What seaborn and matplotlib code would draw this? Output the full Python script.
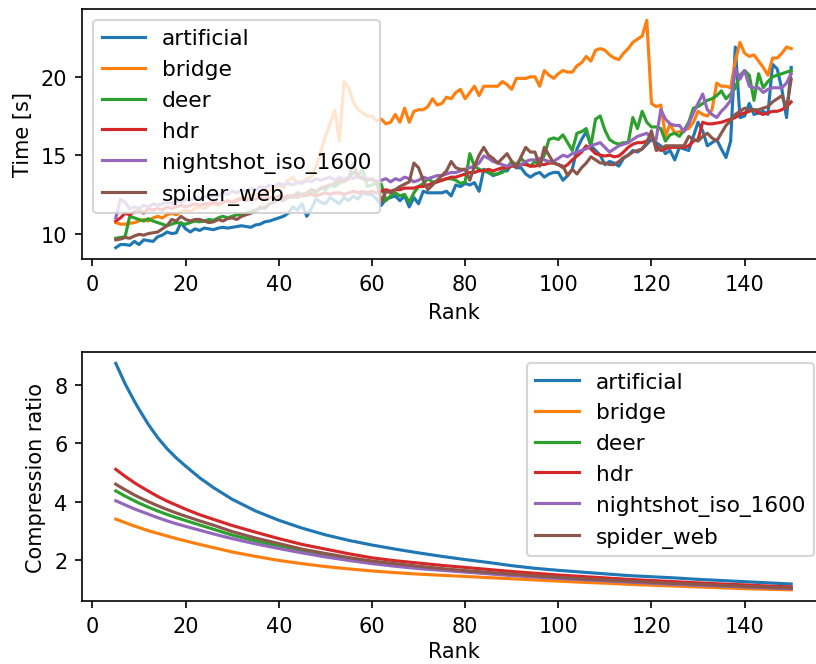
import numpy as np
import pandas as pd
import matplotlib
matplotlib.use("Agg")
import matplotlib.pyplot as plt
import seaborn as sns

images = ["artificial", "bridge", "deer", "hdr", "nightshot_iso_1600", "spider_web"]

# czasy kompresji, rank 5..150 co 1
time_ranks = list(range(5, 151))
time_artificial = [
    9.1, 9.3, 9.3, 9.25, 9.5, 9.3, 9.6, 9.55, 9.5, 9.8,
    9.9, 10.1, 10.0, 10.05, 10.7, 10.3, 10.1, 10.3, 10.2, 10.35,
    10.3, 10.25, 10.35, 10.4, 10.35, 10.4, 10.45, 10.5, 10.45, 10.4,
    10.55, 10.6, 10.75, 10.8, 10.9, 11.0, 11.1, 11.3, 11.7, 11.5,
    11.9, 11.1, 11.6, 12.2, 12.0, 11.9, 12.3, 12.1, 11.9, 12.3,
    12.1, 12.4, 12.2, 12.6, 12.5, 12.5, 12.2, 11.8, 12.2, 12.3,
    12.4, 12.1, 12.4, 11.7, 12.3, 11.9, 12.7, 12.6, 12.6, 12.6,
    12.6, 12.7, 12.4, 13.1, 13.0, 13.2, 13.1, 13.25, 12.7, 14.1,
    13.9, 13.7, 13.8, 14.0, 14.0, 14.4, 14.2, 14.2, 13.8, 13.6,
    13.8, 13.9, 13.6, 13.8, 13.9, 13.9, 13.4, 13.7, 14.1, 15.4,
    16.0, 16.5, 15.6, 15.3, 15.0, 14.4, 14.6, 14.5, 14.3, 14.8,
    15.0, 15.3, 15.2, 15.4, 15.7, 16.0, 15.8, 15.6, 15.1, 15.3,
    14.7, 15.5, 15.4, 15.3, 16.2, 17.1, 16.55, 15.6, 15.8, 16.0,
    15.4, 14.85, 15.9, 21.9, 17.4, 17.5, 18.3, 17.6, 17.7, 17.8,
    17.6, 20.8, 20.5, 19.2, 17.4, 20.6,
]
time_bridge = [
    10.7, 10.6, 10.6, 10.65, 10.7, 10.8, 10.9, 10.8, 11.0, 11.1,
    11.0, 11.2, 11.3, 11.2, 11.4, 11.5, 11.4, 11.6, 11.7, 11.6,
    11.8, 11.9, 11.8, 12.0, 12.1, 12.0, 12.2, 12.3, 12.2, 12.4,
    12.5, 12.4, 12.6, 12.7, 12.9, 13.1, 12.9, 13.4, 13.6, 13.2,
    13.3, 13.5, 13.6, 14.3, 15.2, 16.2, 17.0, 17.9, 15.9, 19.7,
    19.3, 18.4, 17.9, 17.7, 17.5, 17.5, 17.2, 17.3, 17.0, 17.1,
    17.6, 17.1, 18.0, 17.1, 17.8, 17.9, 17.9, 18.1, 18.6, 18.2,
    18.3, 18.7, 18.6, 19.0, 19.2, 18.6, 19.0, 19.4, 18.8, 19.4,
    19.4, 19.4, 19.4, 19.7, 19.5, 19.2, 19.9, 19.9, 19.9, 20.0,
    20.0, 19.4, 20.4, 20.1, 19.9, 20.2, 20.4, 20.3, 20.3, 20.7,
    20.9, 21.3, 21.0, 21.7, 21.8, 21.7, 21.4, 21.2, 21.1, 21.5,
    21.8, 22.2, 22.4, 22.6, 23.6, 18.3, 18.1, 18.2, 16.2, 17.0,
    16.4, 16.5, 16.6, 16.7, 17.1, 17.8, 17.6, 17.5, 17.9, 19.6,
    19.4, 19.4, 19.3, 21.0, 22.2, 21.5, 21.3, 21.4, 21.0, 20.6,
    20.1, 21.2, 21.2, 21.5, 21.9, 21.8,
]
time_deer = [
    9.7, 9.75, 9.8, 11.1, 11.0, 10.9, 10.8, 10.95, 10.8, 10.7,
    10.6, 10.5, 10.6, 10.7, 10.65, 10.6, 10.7, 10.8, 10.75, 10.8,
    10.9, 10.85, 11.0, 11.1, 11.0, 11.1, 11.2, 11.2, 11.3, 11.4,
    11.5, 11.6, 11.7, 11.9, 12.0, 12.2, 12.1, 12.4, 12.3, 12.6,
    12.5, 12.4, 12.7, 12.6, 12.9, 12.8, 13.1, 13.0, 13.2, 13.4,
    13.5, 13.9, 13.7, 14.1, 13.0, 13.1, 13.2, 13.15, 12.1, 12.4,
    12.6, 12.4, 12.5, 12.0, 12.6, 13.0, 13.2, 13.5, 13.3, 13.3,
    13.4, 13.5, 13.5, 13.4, 13.2, 13.3, 15.1, 14.3, 14.1, 14.0,
    13.9, 13.8, 13.8, 13.9, 14.2, 14.6, 14.4, 14.8, 14.5, 14.3,
    14.6, 14.4, 15.0, 16.0, 16.1, 16.0, 16.3, 15.8, 15.3, 16.4,
    16.5, 16.7, 15.6, 17.3, 17.5, 16.6, 16.0, 15.8, 15.7, 15.8,
    15.8, 17.4, 16.7, 17.8, 17.1, 16.8, 16.8, 16.7, 15.9, 16.3,
    16.4, 16.2, 16.6, 17.1, 18.0, 18.1, 18.3, 18.5, 18.6, 18.8,
    19.1, 18.6, 18.9, 19.3, 20.1, 20.4, 20.1, 18.5, 20.2, 19.3,
    19.7, 20.0, 20.1, 20.2, 20.3, 20.4,
]
time_hdr = [
    10.8, 11.0, 11.3, 11.2, 11.4, 11.5, 11.3, 11.6, 11.5, 11.6,
    11.5, 11.7, 11.6, 11.7, 11.8, 11.7, 11.8, 11.9, 11.8, 11.9,
    11.9, 12.0, 11.9, 12.0, 12.1, 12.0, 12.1, 12.2, 12.1, 12.2,
    12.2, 12.3, 12.2, 12.3, 12.3, 12.4, 12.3, 12.4, 12.4, 12.5,
    12.4, 12.5, 12.5, 12.4, 12.5, 12.6, 12.5, 12.6, 12.6, 12.5,
    12.6, 12.7, 12.6, 12.7, 12.6, 12.7, 12.6, 12.7, 12.8, 12.7,
    12.8, 12.8, 12.9, 12.9, 12.9, 13.0, 13.0, 13.1, 13.2, 13.3,
    13.4, 13.5, 13.6, 13.6, 13.7, 13.8, 13.9, 13.9, 14.0, 14.0,
    14.1, 14.0, 14.1, 14.2, 14.2, 14.3, 14.3, 14.4, 14.4, 14.3,
    14.3, 14.4, 14.4, 14.5, 14.5, 14.4, 14.2, 14.4, 14.7, 14.95,
    15.2, 15.6, 15.4, 15.1, 15.0, 14.95, 15.0, 14.9, 14.95, 15.2,
    15.5, 15.7, 15.8, 15.8, 15.9, 16.3, 15.6, 15.3, 15.4, 15.5,
    15.5, 15.5, 15.5, 15.6, 15.9, 16.0, 17.1, 17.0, 17.0, 17.05,
    17.1, 17.2, 17.3, 17.4, 17.6, 17.7, 17.8, 17.9, 17.7, 17.6,
    17.7, 17.8, 17.8, 17.9, 18.1, 18.4,
]
time_nightshot = [
    11.0, 12.2, 12.0, 11.6, 11.7, 11.6, 11.8, 11.7, 11.9, 11.8,
    11.9, 12.0, 11.9, 12.1, 12.0, 12.2, 12.1, 12.3, 12.2, 12.4,
    12.3, 12.5, 12.4, 12.6, 12.5, 12.7, 12.6, 12.8, 12.7, 12.9,
    12.8, 13.0, 12.9, 13.1, 13.0, 13.2, 13.1, 13.2, 13.1, 13.3,
    13.2, 13.4, 13.3, 13.5, 13.4, 13.5, 13.6, 13.4, 13.6, 13.5,
    13.6, 13.5, 13.7, 13.6, 13.5, 13.4, 13.3, 13.4, 13.5, 13.3,
    13.5, 13.4, 13.6, 13.5, 13.3, 13.4, 13.6, 13.5, 13.6, 13.7,
    13.7, 13.8, 13.9, 13.9, 14.0, 14.1, 14.2, 14.3, 14.5, 14.95,
    14.8, 14.6, 14.5, 14.4, 14.3, 14.4, 14.3, 14.4, 14.6, 14.7,
    14.7, 14.8, 14.7, 14.6, 14.6, 14.8, 15.0, 14.9, 15.1, 15.2,
    15.3, 15.4, 15.6, 15.7, 15.8, 15.5, 15.2, 15.4, 15.6, 15.7,
    15.8, 16.0, 16.2, 16.3, 16.4, 16.1, 16.0, 17.9, 17.3, 17.0,
    16.9, 16.9, 16.5, 17.0, 17.7, 18.3, 18.9, 17.9, 17.6, 17.4,
    17.8, 18.1, 18.5, 20.5, 19.85, 20.4, 19.4, 19.3, 19.3, 19.0,
    19.2, 19.3, 19.3, 19.3, 19.6, 20.2,
]
time_spider = [
    9.6, 9.65, 9.75, 9.7, 9.85, 9.95, 9.9, 10.0, 10.05, 10.1,
    10.3, 10.5, 10.9, 10.8, 11.1, 10.9, 10.8, 10.9, 10.9, 10.8,
    10.7, 10.75, 10.9, 10.8, 10.95, 11.0, 10.9, 11.1, 11.2, 11.3,
    11.4, 11.7, 11.6, 11.9, 12.0, 12.2, 12.1, 12.3, 12.4, 12.3,
    12.5, 12.6, 12.8, 12.7, 12.9, 13.0, 13.1, 13.2, 13.4, 13.3,
    13.5, 14.5, 13.6, 13.5, 13.4, 13.5, 13.3, 12.0, 12.7, 12.6,
    12.8, 13.0, 13.15, 13.3, 14.5, 14.2, 13.4, 12.8, 13.1, 13.4,
    13.7, 14.0, 14.6, 14.2, 14.1, 14.1, 13.4, 14.3, 15.0, 15.5,
    15.0, 14.8, 14.5, 14.8, 15.1, 14.6, 14.2, 14.9, 15.5, 15.2,
    15.2, 14.3, 15.5, 15.0, 14.5, 14.4, 14.3, 13.7, 14.1, 13.8,
    14.2, 14.5, 14.9, 14.7, 14.5, 14.5, 14.4, 14.4, 14.6, 14.85,
    15.0, 15.2, 15.3, 15.4, 15.8, 16.55, 15.3, 15.4, 15.6, 15.6,
    15.6, 15.6, 15.6, 16.2, 16.0, 15.9, 16.2, 16.4, 16.1, 15.9,
    16.4, 16.9, 17.2, 17.6, 17.8, 18.0, 17.9, 17.9, 17.9, 18.0,
    18.1, 18.4, 18.6, 18.8, 18.0, 19.85,
]

# stopien kompresji, gesciej na poczatku bo krzywe sa strome
ratio_ranks = [5, 6, 7, 8, 9, 10, 12, 14, 16, 18, 20, 23, 26, 30,
               35, 40, 45, 50, 55, 60, 65, 70, 75, 80, 85, 90, 95, 100,
               105, 110, 115, 120, 125, 130, 135, 140, 145, 150]
ratio_artificial = [8.75, 8.40, 8.05, 7.75, 7.45, 7.17, 6.65, 6.20, 5.82, 5.50,
                    5.22, 4.82, 4.48, 4.08,
                    3.68, 3.36, 3.09, 2.86, 2.67, 2.51, 2.37, 2.24, 2.12, 2.01,
                    1.91, 1.80, 1.71, 1.64, 1.58, 1.52, 1.46, 1.42, 1.38, 1.33,
                    1.29, 1.25, 1.21, 1.17]
ratio_bridge = [3.40, 3.34, 3.28, 3.22, 3.16, 3.11, 3.00, 2.91, 2.82, 2.73,
                2.65, 2.53, 2.42, 2.27,
                2.12, 1.98, 1.87, 1.77, 1.69, 1.62, 1.56, 1.51, 1.47, 1.43,
                1.39, 1.35, 1.31, 1.27, 1.23, 1.20, 1.16, 1.13, 1.10, 1.07,
                1.04, 1.01, 0.99, 0.97]
ratio_deer = [4.37, 4.28, 4.19, 4.11, 4.03, 3.95, 3.81, 3.68, 3.56, 3.45,
              3.35, 3.20, 3.05, 2.85,
              2.65, 2.47, 2.30, 2.16, 2.03, 1.92, 1.83, 1.75, 1.67, 1.60,
              1.54, 1.48, 1.43, 1.38, 1.33, 1.29, 1.25, 1.21, 1.17, 1.14,
              1.11, 1.08, 1.05, 1.02]
ratio_hdr = [5.11, 4.99, 4.87, 4.76, 4.65, 4.55, 4.36, 4.18, 4.02, 3.88,
             3.74, 3.55, 3.39, 3.18,
             2.95, 2.73, 2.53, 2.37, 2.21, 2.07, 1.97, 1.89, 1.81, 1.74,
             1.67, 1.60, 1.54, 1.48, 1.43, 1.38, 1.33, 1.29, 1.25, 1.21,
             1.17, 1.14, 1.10, 1.07]
ratio_nightshot = [4.03, 3.96, 3.89, 3.82, 3.75, 3.69, 3.57, 3.45, 3.34, 3.24,
                   3.15, 3.02, 2.89, 2.73,
                   2.55, 2.39, 2.24, 2.10, 1.98, 1.87, 1.78, 1.70, 1.64, 1.58,
                   1.52, 1.46, 1.41, 1.36, 1.32, 1.28, 1.24, 1.20, 1.16, 1.13,
                   1.10, 1.07, 1.04, 1.01]
ratio_spider = [4.60, 4.50, 4.41, 4.32, 4.23, 4.15, 4.00, 3.86, 3.73, 3.61,
                3.50, 3.34, 3.19, 2.97,
                2.75, 2.56, 2.37, 2.22, 2.08, 1.96, 1.87, 1.78, 1.70, 1.63,
                1.57, 1.51, 1.45, 1.40, 1.35, 1.31, 1.27, 1.23, 1.19, 1.16,
                1.12, 1.09, 1.06, 1.03]


def to_long(ranks, series, value_name):
    frames = []
    for name, vals in zip(images, series):
        frames.append(pd.DataFrame({"Rank": ranks, value_name: vals, "image": name}))
    return pd.concat(frames, ignore_index=True)


time_df = to_long(time_ranks, [time_artificial, time_bridge, time_deer,
                               time_hdr, time_nightshot, time_spider], "time")
ratio_df = to_long(ratio_ranks, [ratio_artificial, ratio_bridge, ratio_deer,
                                 ratio_hdr, ratio_nightshot, ratio_spider], "ratio")

palette = sns.color_palette("tab10", len(images))

fig = plt.figure(figsize=(5.44, 4.433), dpi=150)
ax1 = fig.add_axes([0.1005, 0.609, 0.9105, 0.376])
ax2 = fig.add_axes([0.1005, 0.0945, 0.9105, 0.3746])

sns.lineplot(data=time_df, x="Rank", y="time", hue="image", palette=palette,
             estimator=None, linewidth=1.5, ax=ax1)
handles, labels = ax1.get_legend_handles_labels()
ax1.legend(handles, labels, loc="upper left", fontsize=10.4)
ax1.set_ylabel("Time [s]")
ax1.set_xlabel("Rank")

sns.lineplot(data=ratio_df, x="Rank", y="ratio", hue="image", palette=palette,
             estimator=None, linewidth=1.5, ax=ax2)
handles, labels = ax2.get_legend_handles_labels()
ax2.legend(handles, labels, loc="upper right", fontsize=10.4)
ax2.set_ylabel("Compression ratio")
ax2.set_xlabel("Rank", labelpad=2.5)

for ax in (ax1, ax2):
    ax.set_xticks([0, 20, 40, 60, 80, 100, 120, 140])

fig.savefig("out.png", dpi=150)
